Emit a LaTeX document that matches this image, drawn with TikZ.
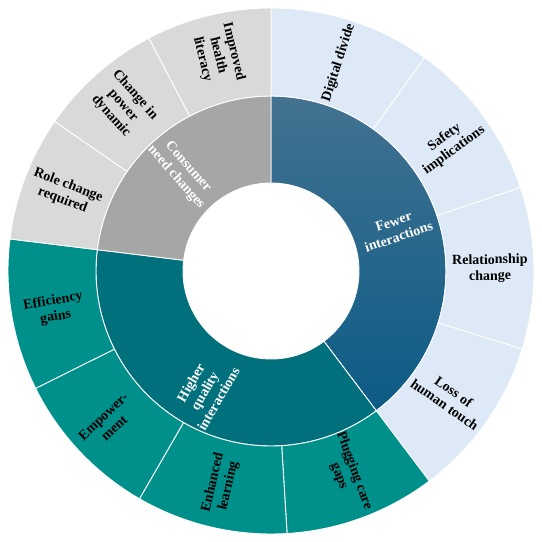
\documentclass[tikz,border=0pt]{standalone}
\usepackage{fontspec}
\setmainfont{Liberation Serif}
\definecolor{fewerTop}{HTML}{437290}
\definecolor{fewerBot}{HTML}{0B5B86}
\definecolor{fewerOut}{HTML}{DDE9F6}
\definecolor{higherIn}{HTML}{00707D}
\definecolor{higherOut}{HTML}{00908C}
\definecolor{consIn}{HTML}{A6A6A6}
\definecolor{consOut}{HTML}{D9D9D9}
\newcommand\mysector[5]{%
  \path[#5] (#1:#3pt) arc[start angle=#1, end angle=#2, radius=#3pt]
    -- (#2:#4pt) arc[start angle=#2, end angle=#1, radius=#4pt] -- cycle;}
\tikzset{
  sep/.style={draw=white, line width=0.9pt},
  lbl/.style={font=\bfseries\fontsize{14}{16}\selectfont, align=center, text=black, inner sep=0pt},
  wlbl/.style={lbl, text=white},
}
\begin{document}
\begin{tikzpicture}[x=1pt,y=1pt]
\useasboundingbox[fill=white] (-271,-271) rectangle (271,271);
% inner ring
\mysector{90}{-53}{88}{175}{sep, top color=fewerTop, bottom color=fewerBot}
\mysector{-53}{-187}{88}{175}{sep, fill=higherIn}
\mysector{173}{90}{88}{175}{sep, fill=consIn}
% outer ring: fewer interactions
\mysector{90}{54.25}{175}{263}{sep, fill=fewerOut}
\mysector{54.25}{18.5}{175}{263}{sep, fill=fewerOut}
\mysector{18.5}{-17.25}{175}{263}{sep, fill=fewerOut}
\mysector{-17.25}{-53}{175}{263}{sep, fill=fewerOut}
% outer ring: higher quality
\mysector{-53}{-86.5}{175}{263}{sep, fill=higherOut}
\mysector{-86.5}{-120}{175}{263}{sep, fill=higherOut}
\mysector{-120}{-153.5}{175}{263}{sep, fill=higherOut}
\mysector{-153.5}{-187}{175}{263}{sep, fill=higherOut}
% outer ring: consumer
\mysector{173}{145.33}{175}{263}{sep, fill=consOut}
\mysector{145.33}{117.67}{175}{263}{sep, fill=consOut}
\mysector{117.67}{90}{175}{263}{sep, fill=consOut}
% inner labels
\node[wlbl, rotate=18.5] (fewer) at (18.5:132) {Fewer\\interactions};
\node[wlbl, rotate=60] (higher) at (-119:137) {Higher\\quality\\interactions};
\node[wlbl, rotate=-48.5] (cons) at (132:133) {Consumer\\need changes};
% outer labels
\node[lbl, rotate=72] (dd) at (72:219) {Digital divide};
\node[lbl, rotate=36.4] (si) at (35.5:219) {Safety\\implications};
\node[lbl, rotate=0.6] (rc) at (0.6:219) {Relationship\\change};
\node[lbl, rotate=-35] (lh) at (-35.5:219) {Loss of\\human touch};
\node[lbl, rotate=-69.75] (pc) at (-69.5:216) {Plugging care\\gaps};
\node[lbl, rotate=76.75] (el) at (-103.25:219) {Enhanced\\learning};
\node[lbl, rotate=43.25] (em) at (-137:222) {Empower-\\ment};
\node[lbl, rotate=9.75] (eg) at (-170:220) {Efficiency\\gains};
\node[lbl, rotate=-20.8] (rr) at (159.2:220) {Role change\\required};
\node[lbl, rotate=-48.5] (cp) at (131.8:222) {Change in\\power\\dynamic};
\node[lbl, rotate=-76.2] (ih) at (103.8:222) {Improved\\health\\literacy};
\end{tikzpicture}
\end{document}
